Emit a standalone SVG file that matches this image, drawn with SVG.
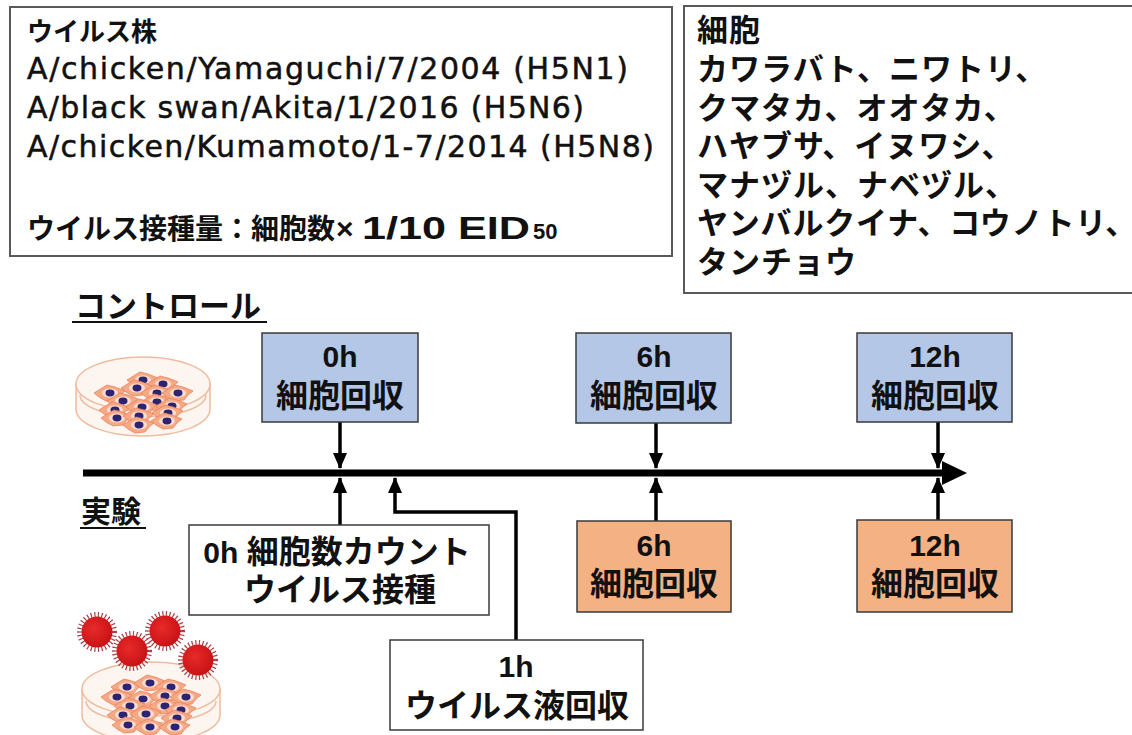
<svg xmlns="http://www.w3.org/2000/svg" xmlns:xlink="http://www.w3.org/1999/xlink" width="1132" height="735" viewBox="0 0 1132 735">
  <style>
    .frame { fill: #ffffff; stroke: #595959; stroke-width: 2; }
    .box { stroke: #3a3a3a; stroke-width: 1.5; }
    .blue { fill: #b4c7e7; }
    .orange { fill: #f4b183; }
    .white { fill: #ffffff; }
    .jp { font-family: "Noto Sans CJK JP", sans-serif; font-weight: 700; fill: #111; }
    .lat { font-family: "DejaVu Sans", "Noto Sans CJK JP", sans-serif; font-weight: 400; fill: #111; stroke: #111; stroke-width: 0.5; }
    .num { font-family: "Liberation Sans", "Noto Sans CJK JP", sans-serif; font-weight: 700; fill: #111; }
    .mid { text-anchor: middle; }
    .conn { fill: none; stroke: #000; stroke-width: 3.5; }
    .under { stroke: #111; stroke-width: 2; }
    .dish { fill: #fdf5f0; stroke: #eebc9f; stroke-width: 1.5; }
    .rim { fill: none; stroke: #eebc9f; stroke-width: 1.5; }
  </style>
  <defs>
    <marker id="ah" markerUnits="userSpaceOnUse" markerWidth="16" markerHeight="16" viewBox="0 0 16 16" refX="15" refY="8" orient="auto">
      <path d="M0,1 L16,8 L0,15 Z" fill="#000"/>
    </marker>
    <!-- single spindle-shaped cell with nucleus -->
    <g id="cell">
      <path d="M-16,0 L-8,-5 L-3,-8 L5,-6 L15,-2 L10,2 L6,7 L-4,8 L-11,4 Z" fill="#f5a985" stroke="#eb825a" stroke-width="0.8"/>
      <ellipse cx="0" cy="0" rx="8" ry="4.5" fill="#fcdccf"/>
      <ellipse cx="0" cy="0" rx="4.5" ry="3.4" fill="#2c2372"/>
    </g>
    <radialGradient id="vg" cx="0.4" cy="0.4" r="0.7">
      <stop offset="0" stop-color="#e82a2a"/>
      <stop offset="1" stop-color="#c40f12"/>
    </radialGradient>
    <!-- spiky virus particle -->
    <g id="virus">
      <circle r="17.5" fill="none" stroke="#a8444c" stroke-width="5" stroke-dasharray="1.2 2.4"/>
      <circle r="15.5" fill="url(#vg)"/>
    </g>
  </defs>

  <!-- strain / inoculum panel -->
  <g id="strain-panel">
    <rect class="frame" x="10" y="7" width="662" height="249"/>
    <text class="jp" x="27" y="41" font-size="26">ウイルス株</text>
    <text class="lat" x="27" y="79" font-size="30" textLength="601" lengthAdjust="spacing">A/chicken/Yamaguchi/7/2004 (H5N1)</text>
    <text class="lat" x="27" y="118" font-size="30" textLength="557" lengthAdjust="spacing">A/black swan/Akita/1/2016 (H5N6)</text>
    <text class="lat" x="27" y="157" font-size="30" textLength="627" lengthAdjust="spacing">A/chicken/Kumamoto/1-7/2014 (H5N8)</text>
    <text x="27" y="239" font-size="28"><tspan class="jp">ウイルス接種量：細胞数</tspan><tspan class="num" x="336" font-size="30" font-weight="400">×</tspan><tspan class="num" x="362" font-size="32" textLength="168" lengthAdjust="spacingAndGlyphs">1/10 EID</tspan><tspan class="num" x="533" font-size="22" font-weight="400">50</tspan></text>
  </g>

  <!-- cell panel -->
  <g id="cell-panel">
    <rect class="frame" x="684" y="6" width="460" height="287"/>
    <g class="jp" font-size="31" letter-spacing="1">
      <text x="697" y="41">細胞</text>
      <text x="697" y="80">カワラバト、ニワトリ、</text>
      <text x="697" y="119">クマタカ、オオタカ、</text>
      <text x="697" y="157">ハヤブサ、イヌワシ、</text>
      <text x="697" y="196">マナヅル、ナベヅル、</text>
      <text x="697" y="234" letter-spacing="0.8">ヤンバルクイナ、コウノトリ、</text>
      <text x="697" y="273">タンチョウ</text>
    </g>
  </g>

  <!-- group labels -->
  <g id="label-control">
    <text class="jp" x="75" y="317" font-size="31">コントロール</text>
    <line class="under" x1="72" y1="322" x2="267" y2="322"/>
  </g>
  <g id="label-exp">
    <text class="jp" x="81" y="522" font-size="30">実験</text>
    <line class="under" x1="80" y1="528" x2="146" y2="528"/>
  </g>

  <!-- control dish -->
  <g id="dish-control">
    <path class="dish" d="M76,384 L76,409 A67,27 0 0 0 210,409 L210,384 Z"/>
    <ellipse class="dish" cx="143" cy="384" rx="67" ry="27"/>
    <path class="rim" d="M80,395 A63,22 0 0 0 206,395"/>
    <use xlink:href="#cell" x="143" y="380"/>
    <use xlink:href="#cell" x="163" y="384"/>
    <use xlink:href="#cell" x="110" y="393"/>
    <use xlink:href="#cell" x="137" y="388"/>
    <use xlink:href="#cell" x="157" y="393"/>
    <use xlink:href="#cell" x="178" y="393"/>
    <use xlink:href="#cell" x="123" y="401"/>
    <use xlink:href="#cell" x="157" y="402"/>
    <use xlink:href="#cell" x="172" y="406"/>
    <use xlink:href="#cell" x="115" y="410"/>
    <use xlink:href="#cell" x="142" y="407"/>
    <use xlink:href="#cell" x="168" y="413"/>
    <use xlink:href="#cell" x="117" y="418"/>
    <use xlink:href="#cell" x="139" y="416"/>
    <use xlink:href="#cell" x="167" y="421"/>
    <use xlink:href="#cell" x="139" y="425"/>
  </g>

  <!-- infected dish -->
  <g id="dish-infected">
    <path class="dish" d="M82,689 L82,715 A69,27 0 0 0 220,715 L220,689 Z"/>
    <ellipse class="dish" cx="151" cy="689" rx="69" ry="27"/>
    <path class="rim" d="M86,701 A65,22 0 0 0 216,701"/>
    <use xlink:href="#cell" x="127" y="687"/>
    <use xlink:href="#cell" x="150" y="683"/>
    <use xlink:href="#cell" x="171" y="687"/>
    <use xlink:href="#cell" x="117" y="697"/>
    <use xlink:href="#cell" x="143" y="699"/>
    <use xlink:href="#cell" x="165" y="696"/>
    <use xlink:href="#cell" x="186" y="697"/>
    <use xlink:href="#cell" x="130" y="706"/>
    <use xlink:href="#cell" x="165" y="706"/>
    <use xlink:href="#cell" x="181" y="710"/>
    <use xlink:href="#cell" x="123" y="715"/>
    <use xlink:href="#cell" x="146" y="714"/>
    <use xlink:href="#cell" x="177" y="718"/>
    <use xlink:href="#cell" x="128" y="725"/>
    <use xlink:href="#cell" x="150" y="727"/>
    <use xlink:href="#cell" x="175" y="727"/>
    <use xlink:href="#virus" x="97" y="632"/>
    <use xlink:href="#virus" x="132" y="651"/>
    <use xlink:href="#virus" x="165" y="631"/>
    <use xlink:href="#virus" x="198" y="660"/>
  </g>

  <!-- timeline and connectors -->
  <g id="connectors">
    <line x1="83" y1="473" x2="945" y2="473" stroke="#000" stroke-width="7"/>
    <path d="M942,461 L967,473 L942,485 Z" fill="#000"/>
    <line class="conn" x1="340" y1="422" x2="340" y2="468" marker-end="url(#ah)"/>
    <line class="conn" x1="656" y1="423" x2="656" y2="468" marker-end="url(#ah)"/>
    <line class="conn" x1="938" y1="422" x2="938" y2="468" marker-end="url(#ah)"/>
    <line class="conn" x1="340" y1="525" x2="340" y2="478" marker-end="url(#ah)"/>
    <path class="conn" d="M516,640 L516,512 L395,512 L395,478" marker-end="url(#ah)"/>
    <line class="conn" x1="656" y1="521" x2="656" y2="478" marker-end="url(#ah)"/>
    <line class="conn" x1="938" y1="520" x2="938" y2="478" marker-end="url(#ah)"/>
  </g>

  <!-- control harvest nodes -->
  <g id="ctrl-0h">
    <rect class="box blue" x="262" y="333" width="156" height="89"/>
    <text class="num mid" x="340" y="367" font-size="30">0h</text>
    <text class="jp mid" x="340" y="407" font-size="32">細胞回収</text>
  </g>
  <g id="ctrl-6h">
    <rect class="box blue" x="576" y="333" width="155" height="90"/>
    <text class="num mid" x="654" y="367" font-size="30">6h</text>
    <text class="jp mid" x="654" y="407" font-size="32">細胞回収</text>
  </g>
  <g id="ctrl-12h">
    <rect class="box blue" x="857" y="333" width="155" height="89"/>
    <text class="num mid" x="935" y="367" font-size="30">12h</text>
    <text class="jp mid" x="935" y="407" font-size="32">細胞回収</text>
  </g>

  <!-- experiment nodes -->
  <g id="exp-0h">
    <rect class="box white" x="189" y="525" width="300" height="90"/>
    <text x="337" y="563" class="mid"><tspan class="num" font-size="30">0h </tspan><tspan class="jp" font-size="32">細胞数カウント</tspan></text>
    <text class="jp mid" x="340" y="601" font-size="32">ウイルス接種</text>
  </g>
  <g id="exp-1h">
    <rect class="box white" x="390" y="640" width="253" height="90"/>
    <text class="num mid" x="516" y="677" font-size="30">1h</text>
    <text class="jp mid" x="517" y="717" font-size="32">ウイルス液回収</text>
  </g>
  <g id="exp-6h">
    <rect class="box orange" x="577" y="521" width="154" height="91"/>
    <text class="num mid" x="654" y="556" font-size="30">6h</text>
    <text class="jp mid" x="654" y="595" font-size="32">細胞回収</text>
  </g>
  <g id="exp-12h">
    <rect class="box orange" x="857" y="520" width="155" height="92"/>
    <text class="num mid" x="935" y="556" font-size="30">12h</text>
    <text class="jp mid" x="935" y="595" font-size="32">細胞回収</text>
  </g>
</svg>
